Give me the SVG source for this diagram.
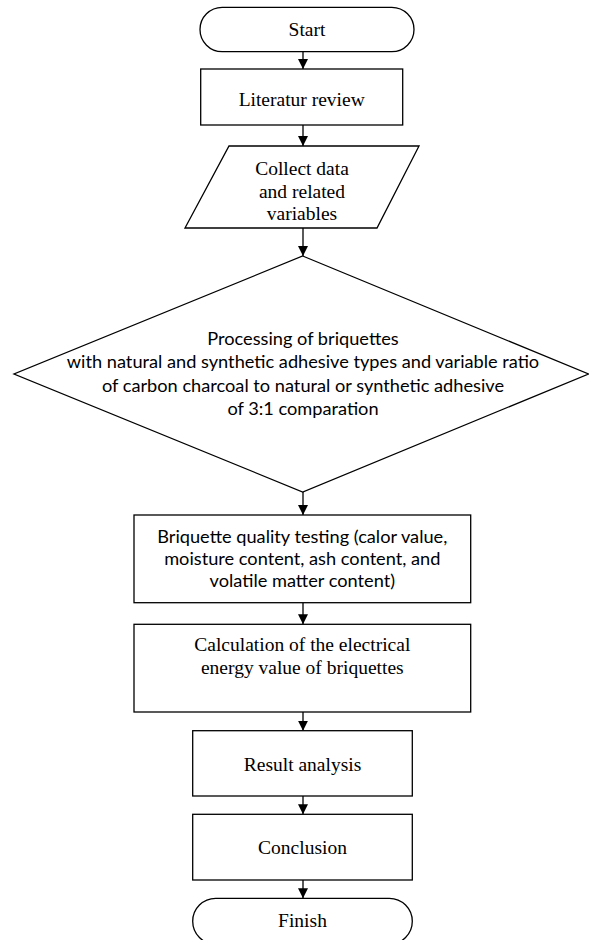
<svg xmlns="http://www.w3.org/2000/svg" width="589" height="940" viewBox="0 0 589 940">
<style>
.shape{fill:#fff;stroke:#000;stroke-width:1.3}
.serif{font-family:"Liberation Serif","Times New Roman",serif;font-size:19.5px;fill:#000;text-anchor:middle}
.sans{font-family:Lato,"Liberation Sans",sans-serif;font-size:18.2px;fill:#000;text-anchor:middle}
.conn{stroke:#000;stroke-width:1.3;fill:none;marker-end:url(#arr)}
</style>
<defs>
<marker id="arr" viewBox="0 0 10 10" refX="10" refY="5" markerWidth="10" markerHeight="10" markerUnits="userSpaceOnUse" orient="auto">
<path d="M0,0 L10,5 L0,10 Z" fill="#000"/>
</marker>
</defs>
<g id="connectors">
<line class="conn" x1="303" y1="51.7" x2="303" y2="69"/>
<line class="conn" x1="303" y1="125" x2="303" y2="146"/>
<line class="conn" x1="303" y1="228" x2="303" y2="256"/>
<line class="conn" x1="303" y1="492" x2="303" y2="515"/>
<line class="conn" x1="303" y1="602.7" x2="303" y2="624.3"/>
<line class="conn" x1="303" y1="712" x2="303" y2="730.7"/>
<line class="conn" x1="303" y1="796" x2="303" y2="814.3"/>
<line class="conn" x1="303" y1="880" x2="303" y2="898.3"/>
</g>
<g id="start">
<rect class="shape" x="200" y="7.3" width="214" height="44.4" rx="22.2" ry="22.2"/>
<text class="serif" x="307" y="36">Start</text>
</g>
<g id="literatur">
<rect class="shape" x="200.7" y="69" width="202" height="56"/>
<text class="serif" x="301.7" y="105.5">Literatur review</text>
</g>
<g id="collect">
<polygon class="shape" points="229,146 419,146 377,228 185,228"/>
<text class="serif" x="302" y="175">Collect data</text>
<text class="serif" x="302" y="197.5">and related</text>
<text class="serif" x="302" y="220">variables</text>
</g>
<g id="processing">
<polygon class="shape" points="302.7,256 588.5,374 302.7,492 14,374"/>
<text class="sans" x="303" y="345">Processing of briquettes</text>
<text class="sans" x="303" y="368.3">with natural and synthetic adhesive types and variable ratio</text>
<text class="sans" x="303" y="391.7">of carbon charcoal to natural or synthetic adhesive</text>
<text class="sans" x="303" y="415">of 3:1 comparation</text>
</g>
<g id="quality">
<rect class="shape" x="134" y="515" width="336.7" height="87.7"/>
<text class="sans" x="302.3" y="542.7">Briquette quality testing (calor value,</text>
<text class="sans" x="302.3" y="565">moisture content, ash content, and</text>
<text class="sans" x="302.3" y="587.3">volatile matter content)</text>
</g>
<g id="calculation">
<rect class="shape" x="134" y="624.3" width="336.7" height="87.7"/>
<text class="serif" x="302.3" y="650.7">Calculation of the electrical</text>
<text class="serif" x="302.3" y="674">energy value of briquettes</text>
</g>
<g id="result">
<rect class="shape" x="192.7" y="730.7" width="219.6" height="65.3"/>
<text class="serif" x="302.5" y="770.7">Result analysis</text>
</g>
<g id="conclusion">
<rect class="shape" x="192.7" y="814.3" width="219.6" height="65.7"/>
<text class="serif" x="302.5" y="854.3">Conclusion</text>
</g>
<g id="finish">
<rect class="shape" x="192.7" y="898.3" width="219.6" height="46" rx="23" ry="23"/>
<text class="serif" x="302.5" y="927.3">Finish</text>
</g>
</svg>
